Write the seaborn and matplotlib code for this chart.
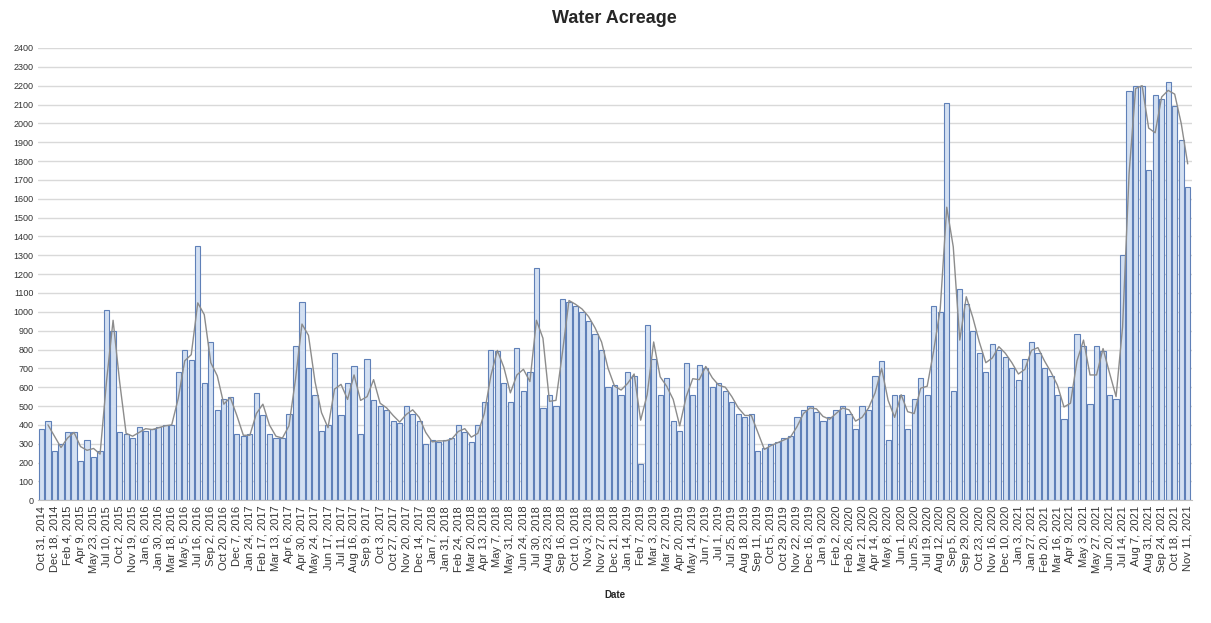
import numpy as np
import pandas as pd
import matplotlib
matplotlib.use("Agg")
import matplotlib.pyplot as plt
import seaborn as sns

# weekly-ish observations, label shown on every second bar
DATE_LABELS = [
    "Oct 31, 2014", "Dec 18, 2014", "Feb 4, 2015", "Apr 9, 2015", "May 23, 2015",
    "Jul 10, 2015", "Oct 2, 2015", "Nov 19, 2015", "Jan 6, 2016", "Jan 30, 2016",
    "Mar 18, 2016", "May 5, 2016", "Jul 16, 2016", "Sep 2, 2016", "Oct 20, 2016",
    "Dec 7, 2016", "Jan 24, 2017", "Feb 17, 2017", "Mar 13, 2017", "Apr 6, 2017",
    "Apr 30, 2017", "May 24, 2017", "Jun 17, 2017", "Jul 11, 2017", "Aug 16, 2017",
    "Sep 9, 2017", "Oct 3, 2017", "Oct 27, 2017", "Nov 20, 2017", "Dec 14, 2017",
    "Jan 7, 2018", "Jan 31, 2018", "Feb 24, 2018", "Mar 20, 2018", "Apr 13, 2018",
    "May 7, 2018", "May 31, 2018", "Jun 24, 2018", "Jul 30, 2018", "Aug 23, 2018",
    "Sep 16, 2018", "Oct 10, 2018", "Nov 3, 2018", "Nov 27, 2018", "Dec 21, 2018",
    "Jan 14, 2019", "Feb 7, 2019", "Mar 3, 2019", "Mar 27, 2019", "Apr 20, 2019",
    "May 14, 2019", "Jun 7, 2019", "Jul 1, 2019", "Jul 25, 2019", "Aug 18, 2019",
    "Sep 11, 2019", "Oct 5, 2019", "Oct 29, 2019", "Nov 22, 2019", "Dec 16, 2019",
    "Jan 9, 2020", "Feb 2, 2020", "Feb 26, 2020", "Mar 21, 2020", "Apr 14, 2020",
    "May 8, 2020", "Jun 1, 2020", "Jun 25, 2020", "Jul 19, 2020", "Aug 12, 2020",
    "Sep 5, 2020", "Sep 29, 2020", "Oct 23, 2020", "Nov 16, 2020", "Dec 10, 2020",
    "Jan 3, 2021", "Jan 27, 2021", "Feb 20, 2021", "Mar 16, 2021", "Apr 9, 2021",
    "May 3, 2021", "May 27, 2021", "Jun 20, 2021", "Jul 14, 2021", "Aug 7, 2021",
    "Aug 31, 2021", "Sep 24, 2021", "Oct 18, 2021", "Nov 11, 2021",
]

ACREAGE = [
    380, 420, 260, 300, 360, 360, 210, 320, 230, 260,
    1010, 900, 360, 350, 330, 390, 370, 380, 390, 400,
    400, 680, 800, 745, 1350, 620, 840, 480, 540, 550,
    350, 340, 350, 570, 450, 350, 330, 330, 460, 820,
    1050, 700, 560, 370, 400, 780, 450, 620, 710, 350,
    750, 530, 500, 480, 420, 410, 500, 460, 420, 300,
    320, 310, 320, 330, 400, 360, 310, 400, 520, 800,
    790, 620, 520, 810, 580, 680, 1230, 490, 560, 500,
    1070, 1050, 1030, 1000, 950, 880, 800, 600, 610, 560,
    680, 660, 190, 930, 750, 560, 650, 420, 370, 730,
    560, 720, 700, 600, 620, 580, 520, 460, 440, 460,
    260, 280, 300, 310, 330, 340, 440, 480, 500, 470,
    420, 440, 480, 500, 460, 380, 500, 480, 660, 740,
    320, 560, 560, 380, 540, 650, 560, 1030, 1000, 2110,
    580, 1120, 1040, 900, 780, 680, 830, 800, 760, 700,
    640, 750, 840, 780, 700, 660, 560, 430, 600, 880,
    820, 510, 820, 790, 560, 540, 1300, 2170, 2200, 2200,
    1750, 2150, 2130, 2220, 2090, 1910, 1660,
]

df = pd.DataFrame({"idx": np.arange(len(ACREAGE)), "acreage": ACREAGE})
# 2-period moving average trendline, like the spreadsheet one
df["trend"] = df["acreage"].rolling(2).mean()

sns.set_style("white")
plt.rcParams["font.family"] = ["Liberation Sans", "DejaVu Sans"]

fig = plt.figure(figsize=(12.11, 6.23), dpi=100)
ax = fig.add_axes([0.031, 0.197, 0.953, 0.726])

ax.set_axisbelow(True)
ax.yaxis.grid(True, color="#d9d9d9", linewidth=1.0)

sns.barplot(
    data=df, x="idx", y="acreage", ax=ax,
    color="#d3e0f2", edgecolor="#5f80b8", linewidth=0.8,
    width=0.8, saturation=1,
)
ax.plot(df["idx"], df["trend"], color="#8c8c8c", linewidth=1.0)

ax.set_ylim(0, 2400)
ax.set_xlim(-0.6, len(ACREAGE) - 0.4)
ax.set_yticks(np.arange(0, 2401, 100))
ax.tick_params(axis="y", labelsize=6.5, length=0, pad=3, colors="#333333")

ax.set_xticks(np.arange(0, len(ACREAGE), 2))
ax.set_xticklabels(DATE_LABELS, rotation=90, fontsize=8, color="#333333")
ax.tick_params(axis="x", length=0, pad=4)

for side in ["top", "right", "left"]:
    ax.spines[side].set_visible(False)
ax.spines["bottom"].set_color("#bfbfbf")

ax.set_xlabel("Date", fontsize=7, fontweight="bold", labelpad=12)
ax.set_ylabel("")
ax.set_title("Water Acreage", fontsize=13, fontweight="bold", pad=18)

fig.savefig("out.png", dpi=100)
